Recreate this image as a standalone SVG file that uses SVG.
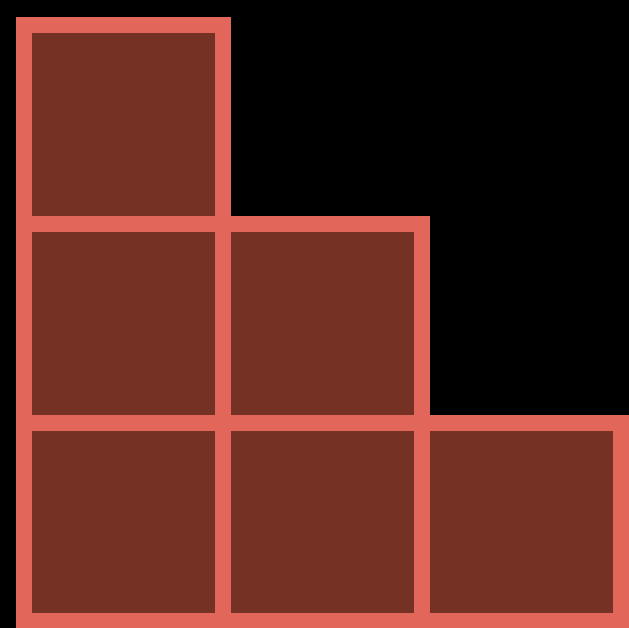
<svg xmlns="http://www.w3.org/2000/svg" width="629" height="628" viewBox="0 0 629 628">
<style>
.sq{fill:#763125;stroke:#e2665a;stroke-width:16}
</style>
<rect width="629" height="628" fill="#000"/>
<g id="sq1"><rect class="sq" x="24" y="25" width="199" height="199"/></g>
<g id="sq2"><rect class="sq" x="24" y="224" width="199" height="199"/></g>
<g id="sq3"><rect class="sq" x="223" y="224" width="199" height="199"/></g>
<g id="sq4"><rect class="sq" x="24" y="423" width="199" height="198"/></g>
<g id="sq5"><rect class="sq" x="223" y="423" width="199" height="198"/></g>
<g id="sq6"><rect class="sq" x="422" y="423" width="199" height="198"/></g>
</svg>
